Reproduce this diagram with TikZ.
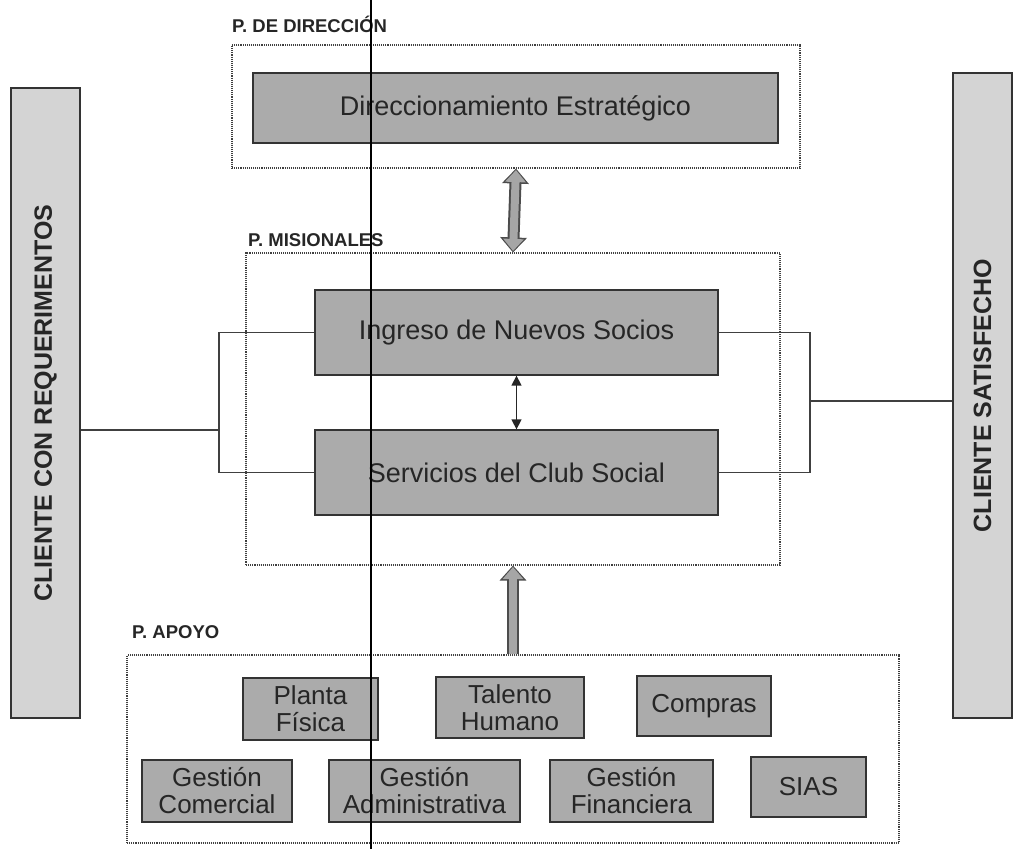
\documentclass[tikz,border=0pt]{standalone}
\usepackage{fontspec}
\setmainfont{Liberation Sans}
\usetikzlibrary{arrows.meta,positioning}

\tikzset{
  proc/.style={draw=black!80, line width=1.3pt, fill=black!33, inner sep=0pt, align=center,
    text=black!85, font=\fontsize{27}{28}\selectfont},
  sproc/.style={proc, font=\fontsize{26}{27}\selectfont},
  group/.style={draw=black!75, densely dotted, line width=1.1pt, inner sep=0pt},
  gtitle/.style={anchor=west, inner sep=0pt, font=\fontsize{18.5}{18.5}\selectfont\bfseries, text=black!85},
  client/.style={draw=black!80, line width=1.6pt, fill=black!17, inner sep=0pt, rotate=90,
    text=black!85, font=\fontsize{25}{25}\selectfont\bfseries},
  link/.style={draw=black!75, line width=1.3pt},
}

\begin{document}
\begin{tikzpicture}[x=1pt, y=-1pt]
        \useasboundingbox (0,0) rectangle (1014,849);
        % Clientes
        \node[client, minimum width=630pt, minimum height=69pt] (lclient) at (45.5,403) {CLIENTE CON REQUERIMENTOS};
        \node[client, minimum width=645pt, minimum height=59pt] (rclient) at (982.5,395.5) {CLIENTE SATISFECHO};
        % P. de direccion
        \node[gtitle] (dirtitle) at (232,24) {P. DE DIRECCIÓN};
        \node[group, minimum width=568pt, minimum height=123pt] (dirgroup) at (516,106.5) {};
        \node[proc, minimum width=525pt, minimum height=70pt] (direcc) at (515.5,108) {Direccionamiento Estratégico};
        % P. misionales
        \node[gtitle] (mistitle) at (248,240) {P. MISIONALES};
        \node[group, minimum width=534pt, minimum height=312pt] (misgroup) at (513,409) {};
        \node[proc, minimum width=403pt, minimum height=85pt] (ingreso) at (516.5,332.5) {Ingreso de Nuevos Socios};
        \node[proc, minimum width=403pt, minimum height=85pt] (servicios) at (516.5,472.5) {Servicios del Club Social};
        % P. apoyo
        \node[gtitle] (apotitle) at (132,632) {P. APOYO};
        \node[group, minimum width=772pt, minimum height=188pt] (apogroup) at (513,749) {};
        \node[sproc, minimum width=135pt, minimum height=62pt] (planta) at (310.5,709) {Planta\\Física};
        \node[sproc, minimum width=148pt, minimum height=61pt] (talento) at (510,707.5) {Talento\\Humano};
        \node[sproc, minimum width=134pt, minimum height=60pt] (compras) at (704,706) {Compras};
        \node[sproc, minimum width=150pt, minimum height=62pt] (comercial) at (217,791) {Gestión\\Comercial};
        \node[sproc, minimum width=191pt, minimum height=62pt] (admin) at (424.5,791) {Gestión\\Administrativa};
        \node[sproc, minimum width=163pt, minimum height=62pt] (financ) at (631.5,791) {Gestión\\Financiera};
        \node[sproc, minimum width=115pt, minimum height=60pt] (sias) at (808.5,787) {SIAS};

        % Flechas gruesas
        \draw[line width=12pt, black!70, {Triangle[length=15pt,width=26pt]}-{Triangle[length=15pt,width=26pt]}] (dirgroup.south) -- (misgroup.north);
        \draw[line width=8pt, black!35, {Triangle[length=12pt,width=20pt]}-{Triangle[length=12pt,width=20pt]}, shorten >=1.5pt, shorten <=1.5pt] (dirgroup.south) -- (misgroup.north);
        \draw[line width=12pt, black!70, -{Triangle[length=15pt,width=26pt]}] (apogroup.north) -- (misgroup.south);
        \draw[line width=8pt, black!35, -{Triangle[length=12pt,width=20pt]}, shorten >=1.5pt] (apogroup.north) -- (misgroup.south);
        \draw[black!85, line width=1.4pt, {Triangle[length=10pt,width=10pt]}-{Triangle[length=10pt,width=10pt]}] (ingreso.south) -- (servicios.north);

        % Entradas y salidas
        \coordinate (ljoin) at (219,430);
        \coordinate (rjoin) at (810,401);
        \draw[link] (ingreso.west) -| (ljoin) |- (servicios.west);
        \draw[link] (lclient.south |- ljoin) -- (ljoin);
        \draw[link] (ingreso.east) -| (rjoin) |- (servicios.east);
        \draw[link] (rjoin) -- (rclient.north |- rjoin);

        % linea del escaneo
        \draw[line width=2.5pt, black] (371,0) -- (371,849);
\end{tikzpicture}
\end{document}
